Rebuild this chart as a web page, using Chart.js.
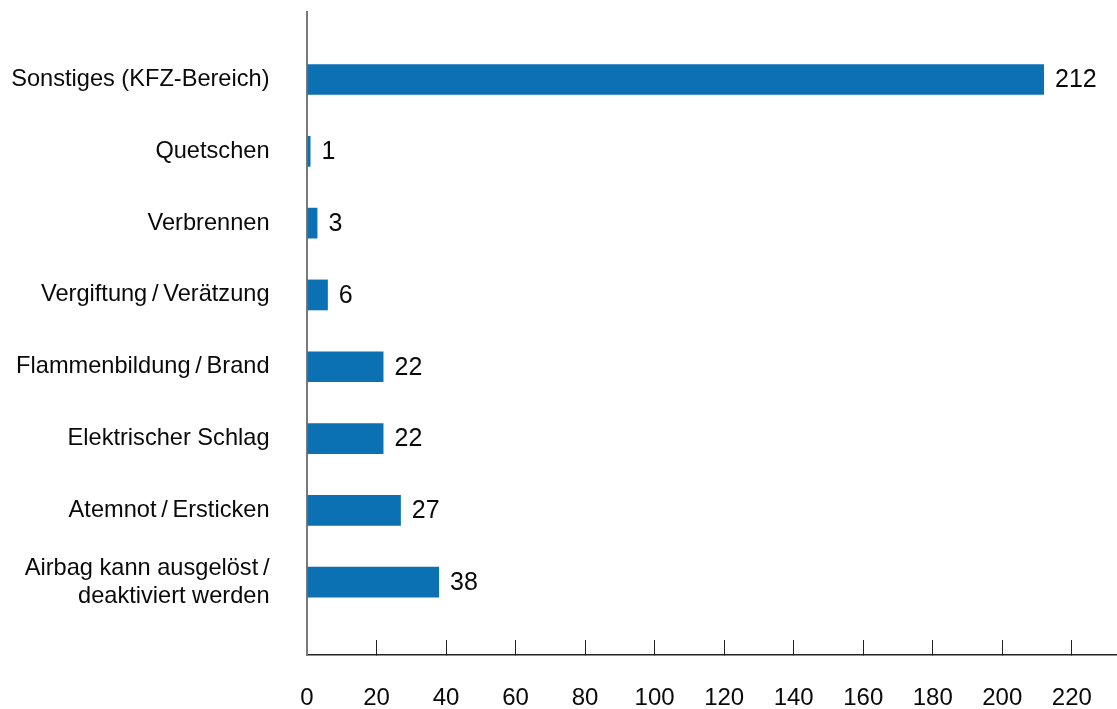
<!DOCTYPE html>
<html lang="de">
<head>
<meta charset="utf-8">
<title>Gefährdungen im KFZ-Bereich</title>
<script src="https://cdn.jsdelivr.net/npm/chart.js@4/dist/chart.umd.min.js"></script>
<style>
  html, body { margin: 0; padding: 0; background: #ffffff; }
  #wrap { width: 1117px; height: 709px; }
</style>
</head>
<body>
<div id="wrap"><canvas id="chart" width="1117" height="709"></canvas></div>
<script>
// Categories from top to bottom; a nested array is a two-line label.
const categories = [
  'Sonstiges (KFZ-Bereich)',
  'Quetschen',
  'Verbrennen',
  'Vergiftung\u2009/\u2009Verätzung',
  'Flammenbildung\u2009/\u2009Brand',
  'Elektrischer Schlag',
  'Atemnot\u2009/\u2009Ersticken',
  ['Airbag kann ausgelöst\u2009/', 'deaktiviert werden']
];
const counts = [212, 1, 3, 6, 22, 22, 27, 38];
const xTickValues = [0, 20, 40, 60, 80, 100, 120, 140, 160, 180, 200, 220];

const FONT = '"Liberation Sans", Arial, Helvetica, sans-serif';
const BAR_COLOR = '#0c71b3';

// Writes each count just right of the end of its bar.
const valueLabels = {
  id: 'valueLabels',
  afterDatasetsDraw(chart) {
    const ctx = chart.ctx;
    const meta = chart.getDatasetMeta(0);
    ctx.save();
    ctx.font = '25px ' + FONT;
    ctx.fillStyle = '#0a0a0a';
    ctx.textAlign = 'left';
    ctx.textBaseline = 'middle';
    meta.data.forEach((bar, i) => {
      ctx.fillText(String(counts[i]), bar.x + 11, bar.y + 1);
    });
    ctx.restore();
  }
};

new Chart(document.getElementById('chart'), {
  type: 'bar',
  data: {
    datasets: [{
      data: counts.map((v, i) => ({ x: v, y: i })),
      backgroundColor: BAR_COLOR,
      borderWidth: 0,
      categoryPercentage: 1,
      barPercentage: 0.428
    }]
  },
  options: {
    indexAxis: 'y',
    responsive: false,
    animation: false,
    layout: { padding: { top: 12, right: 0, bottom: 0, left: 0 } },
    plugins: {
      legend: { display: false },
      tooltip: { enabled: false }
    },
    scales: {
      x: {
        type: 'linear',
        position: 'bottom',
        min: 0,
        max: 233,
        afterBuildTicks(scale) {
          scale.ticks = xTickValues.map(v => ({ value: v }));
        },
        afterFit(scale) {
          scale.height = 54;
          scale.paddingLeft = 0;
          scale.paddingRight = 0;
        },
        grid: {
          drawOnChartArea: false,
          drawTicks: true,
          tickLength: -15,
          color: '#222222',
          lineWidth: 1
        },
        border: { display: true, color: '#222222', width: 1.5 },
        ticks: {
          padding: 44,
          color: '#0a0a0a',
          font: { family: FONT, size: 24 },
          maxRotation: 0,
          autoSkip: false
        }
      },
      y: {
        type: 'linear',
        position: 'left',
        reverse: true,
        offset: false,
        min: -0.94,
        max: 8.014,
        afterBuildTicks(scale) {
          scale.ticks = categories.map((_, i) => ({ value: i }));
        },
        afterFit(scale) {
          scale.width = 307;
          scale.paddingTop = 0;
          scale.paddingBottom = 0;
        },
        grid: { display: false, drawTicks: false, offset: false },
        border: { display: true, color: '#7a7a7a', width: 2 },
        ticks: {
          padding: 37.5,
          color: '#0a0a0a',
          font: { family: FONT, size: 23.6, lineHeight: 1.2 },
          autoSkip: false,
          callback: (value) => categories[value]
        }
      }
    }
  },
  plugins: [valueLabels]
});
</script>
</body>
</html>
